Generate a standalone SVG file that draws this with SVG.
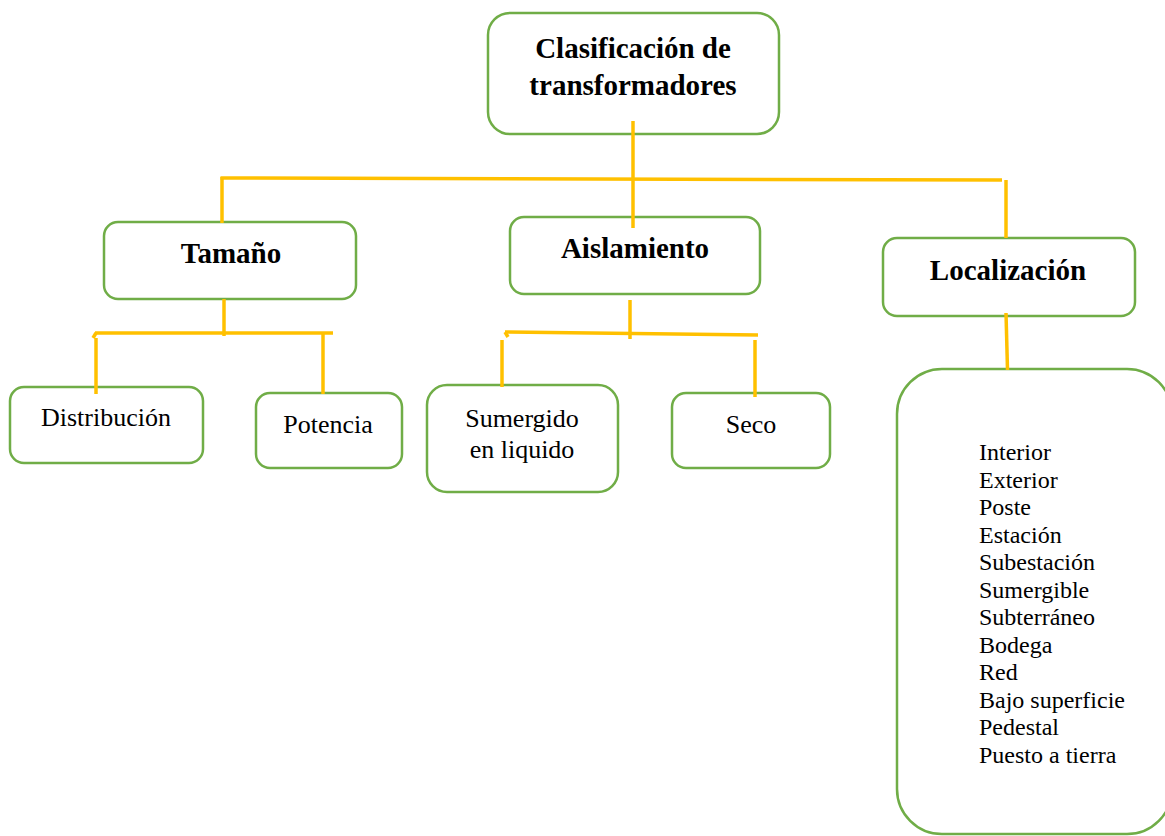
<svg xmlns="http://www.w3.org/2000/svg" width="1165" height="836" viewBox="0 0 1165 836">
  <style>
    .box { fill: #FFFFFF; stroke: #70AD47; stroke-width: 2.5; }
    .link { fill: none; stroke: #FFC000; stroke-width: 3.5; stroke-linecap: butt; }
    .title { font-family: "Liberation Serif", "Times New Roman", serif; font-weight: bold; font-size: 29px; fill: #000; text-anchor: middle; }
    .label { font-family: "Liberation Serif", "Times New Roman", serif; font-size: 26px; fill: #000; text-anchor: middle; }
    .item { font-family: "Liberation Serif", "Times New Roman", serif; font-size: 24px; fill: #000; }
  </style>
  <rect width="1165" height="836" fill="#FFFFFF"/>

  <g id="clasificacion">
    <rect class="box" x="488" y="13" width="291" height="121" rx="22"/>
    <text class="title" x="633" y="58">Clasificación de</text>
    <text class="title" x="633" y="95">transformadores</text>
  </g>

  <g id="tamano">
    <rect class="box" x="104" y="222" width="252" height="77" rx="14"/>
    <text class="title" x="231" y="263">Tamaño</text>
  </g>

  <g id="aislamiento">
    <rect class="box" x="510" y="217" width="250" height="77" rx="14"/>
    <text class="title" x="635" y="258">Aislamiento</text>
  </g>

  <g id="localizacion">
    <rect class="box" x="883" y="238" width="252" height="78" rx="14"/>
    <text class="title" x="1008" y="280">Localización</text>
  </g>

  <g id="distribucion">
    <rect class="box" x="10" y="387" width="193" height="76" rx="14"/>
    <text class="label" x="106" y="426">Distribución</text>
  </g>

  <g id="potencia">
    <rect class="box" x="256" y="393" width="146" height="75" rx="14"/>
    <text class="label" x="328" y="433">Potencia</text>
  </g>

  <g id="sumergido">
    <rect class="box" x="427" y="385" width="191" height="107" rx="20"/>
    <text class="label" x="522" y="427">Sumergido</text>
    <text class="label" x="522" y="458">en liquido</text>
  </g>

  <g id="seco">
    <rect class="box" x="672" y="393" width="158" height="75" rx="14"/>
    <text class="label" x="751" y="433">Seco</text>
  </g>

  <g id="tipos-localizacion">
    <rect class="box" x="897" y="369" width="275" height="465" rx="45"/>
    <text class="item" x="979" y="460">Interior</text>
    <text class="item" x="979" y="487.5">Exterior</text>
    <text class="item" x="979" y="515">Poste</text>
    <text class="item" x="979" y="542.5">Estación</text>
    <text class="item" x="979" y="570">Subestación</text>
    <text class="item" x="979" y="597.5">Sumergible</text>
    <text class="item" x="979" y="625">Subterráneo</text>
    <text class="item" x="979" y="652.5">Bodega</text>
    <text class="item" x="979" y="680">Red</text>
    <text class="item" x="979" y="707.5">Bajo superficie</text>
    <text class="item" x="979" y="735">Pedestal</text>
    <text class="item" x="979" y="762.5">Puesto a tierra</text>
  </g>

  <g id="connectors">
    <!-- main trunk and top bus -->
    <line class="link" x1="633" y1="121" x2="633" y2="228"/>
    <line class="link" x1="220.5" y1="178" x2="1002" y2="180"/>
    <line class="link" x1="222" y1="177" x2="222" y2="223"/>
    <line class="link" x1="1006" y1="180" x2="1006" y2="238"/>
    <!-- Tamaño branch -->
    <line class="link" x1="224" y1="299" x2="224" y2="336"/>
    <line class="link" x1="95" y1="333" x2="333" y2="333"/>
    <path class="link" d="M93,338 L96,333"/>
    <line class="link" x1="96" y1="338" x2="96" y2="394"/>
    <line class="link" x1="323" y1="333" x2="323" y2="394" stroke-width="5"/>
    <!-- Aislamiento branch -->
    <line class="link" x1="630" y1="300" x2="630" y2="339"/>
    <line class="link" x1="505" y1="332" x2="758" y2="335"/>
    <path class="link" d="M505,332 L508,337"/>
    <line class="link" x1="502" y1="340" x2="502" y2="387"/>
    <line class="link" x1="755" y1="340" x2="755" y2="397"/>
    <!-- Localización branch -->
    <line class="link" x1="1006" y1="313" x2="1007.5" y2="370"/>
  </g>
</svg>
